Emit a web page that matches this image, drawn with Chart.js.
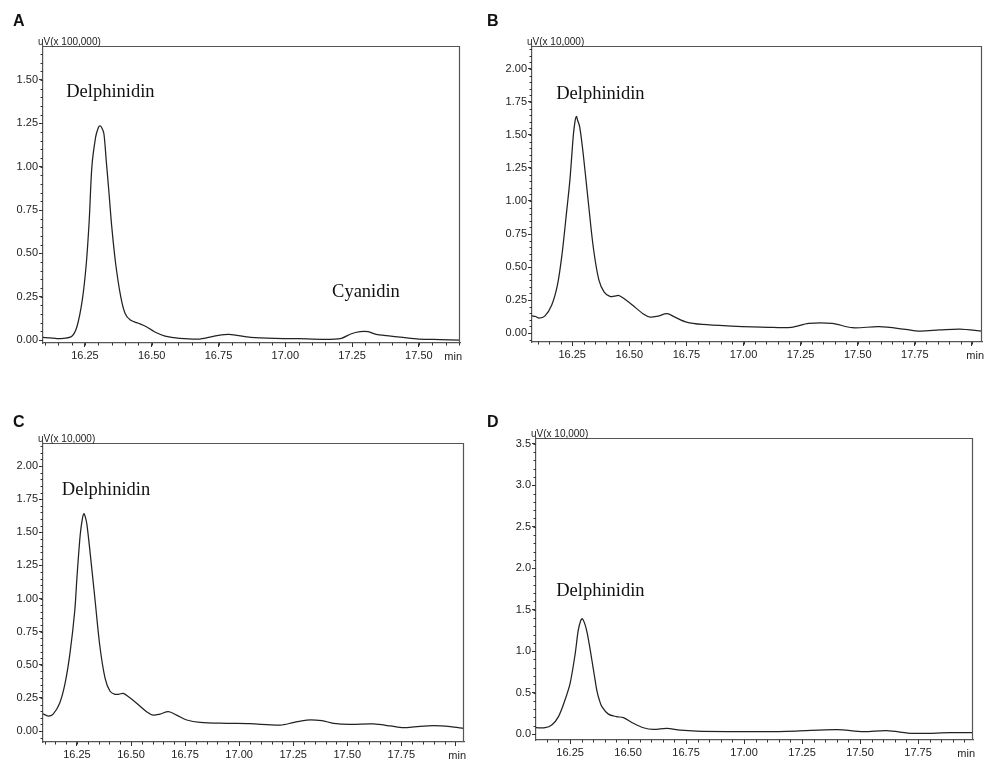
<!DOCTYPE html>
<html>
<head>
<meta charset="utf-8">
<script src="https://cdn.jsdelivr.net/npm/chart.js@4.4.1/dist/chart.umd.min.js"></script>
<style>
  body { margin: 0; background: #fff; }
  #page { position: relative; width: 984px; height: 760px; overflow: hidden; background: #fff; }
  canvas { position: absolute; }
  .tag { position: absolute; font: bold 16px "Liberation Sans", Arial, sans-serif; line-height: 16px; color: #111; }
</style>
</head>
<body>
<div id="page">
  <canvas id="chartA" width="480" height="380" style="left:0;top:0"></canvas>
  <canvas id="chartB" width="504" height="380" style="left:480px;top:0"></canvas>
  <canvas id="chartC" width="480" height="380" style="left:0;top:380px"></canvas>
  <canvas id="chartD" width="504" height="380" style="left:480px;top:380px"></canvas>
  <div class="tag" style="left:13px;top:13px">A</div>
  <div class="tag" style="left:487px;top:13px">B</div>
  <div class="tag" style="left:13px;top:414px">C</div>
  <div class="tag" style="left:487px;top:414px">D</div>
</div>

<script>
// ── chromatogram data (retention time in min, signal in axis units) ──

const timeA = [16.093, 16.12, 16.145, 16.17, 16.20, 16.22, 16.24, 16.255, 16.266, 16.276, 16.29, 16.30, 16.306,
  16.313, 16.321, 16.33, 16.34, 16.35, 16.365, 16.384, 16.40, 16.42, 16.45, 16.48, 16.51, 16.55, 16.605, 16.68,
  16.75, 16.79, 16.85, 16.87, 16.96, 17.05, 17.14, 17.21, 17.245, 17.28, 17.31, 17.34, 17.38, 17.44, 17.50, 17.58, 17.654];
const signalA = [0.015, 0.013, 0.008, 0.01, 0.02, 0.077, 0.23, 0.44, 0.69, 1.00, 1.17, 1.225, 1.235,
  1.225, 1.19, 1.03, 0.85, 0.66, 0.44, 0.25, 0.155, 0.115, 0.097, 0.077, 0.048, 0.023, 0.01, 0.006,
  0.027, 0.033, 0.02, 0.015, 0.01, 0.008, 0.004, 0.01, 0.035, 0.048, 0.048, 0.033, 0.025, 0.015, 0.006, 0.003, 0.0];

const timeB = [16.074, 16.09, 16.105, 16.13, 16.16, 16.185, 16.205, 16.225, 16.24, 16.255, 16.262, 16.268, 16.274,
  16.283, 16.298, 16.32, 16.343, 16.367, 16.39, 16.415, 16.435, 16.455, 16.478, 16.515, 16.56, 16.592, 16.625,
  16.665, 16.70, 16.75, 16.82, 16.947, 17.109, 17.21, 17.285, 17.388, 17.476, 17.594, 17.71, 17.77, 17.858, 17.947, 18.044];
const signalB = [0.13, 0.125, 0.113, 0.128, 0.21, 0.36, 0.59, 0.91, 1.16, 1.5, 1.6, 1.64, 1.61,
  1.56, 1.36, 1.00, 0.64, 0.40, 0.31, 0.277, 0.28, 0.284, 0.26, 0.21, 0.146, 0.12, 0.128,
  0.146, 0.12, 0.083, 0.065, 0.053, 0.043, 0.043, 0.073, 0.073, 0.04, 0.048, 0.028, 0.015, 0.023, 0.03, 0.015];

const timeC = [16.093, 16.117, 16.14, 16.17, 16.195, 16.218, 16.24, 16.25, 16.265, 16.276, 16.282, 16.288, 16.296,
  16.31, 16.333, 16.356, 16.38, 16.403, 16.426, 16.445, 16.464, 16.487, 16.526, 16.572, 16.603, 16.634, 16.673,
  16.711, 16.758, 16.82, 16.943, 17.05, 17.19, 17.25, 17.313, 17.383, 17.437, 17.514, 17.622, 17.70, 17.76, 17.82,
  17.90, 17.977, 18.04];
const signalC = [0.13, 0.113, 0.128, 0.21, 0.36, 0.59, 0.91, 1.16, 1.48, 1.61, 1.64, 1.62, 1.56,
  1.36, 1.00, 0.64, 0.40, 0.30, 0.277, 0.278, 0.284, 0.26, 0.21, 0.146, 0.12, 0.128, 0.146,
  0.12, 0.083, 0.065, 0.058, 0.055, 0.045, 0.063, 0.083, 0.078, 0.058, 0.05, 0.053, 0.038, 0.025, 0.033,
  0.04, 0.033, 0.02];

const timeD = [16.103, 16.142, 16.171, 16.20, 16.228, 16.25, 16.272, 16.285, 16.296, 16.303, 16.312, 16.322, 16.334,
  16.344, 16.355, 16.365, 16.376, 16.387, 16.415, 16.45, 16.48, 16.523, 16.566, 16.61, 16.667, 16.724, 16.796,
  16.94, 17.10, 17.227, 17.40, 17.514, 17.615, 17.73, 17.888, 17.987];
const signalD = [0.076, 0.076, 0.11, 0.21, 0.41, 0.61, 0.97, 1.25, 1.37, 1.39, 1.34, 1.24, 1.06,
  0.89, 0.70, 0.53, 0.41, 0.33, 0.24, 0.21, 0.197, 0.13, 0.076, 0.056, 0.068, 0.048, 0.036,
  0.03, 0.028, 0.036, 0.052, 0.028, 0.04, 0.008, 0.016, 0.016];

// axis ranges
const xRangeA = [16.093, 17.654], yRangeA = [-0.017, 1.696];
const xRangeB = [16.074, 18.044], yRangeB = [-0.068, 2.174];
const xRangeC = [16.093, 18.04],  yRangeC = [-0.083, 2.174];
const xRangeD = [16.103, 17.987], yRangeD = [-0.072, 3.57];

const unitLabels = ['uV(x 100,000)', 'uV(x 10,000)', 'uV(x 10,000)', 'uV(x 10,000)'];
const peakNames = ['Delphinidin', 'Cyanidin'];

const sansFont = '"Liberation Sans", Arial, sans-serif';

// ── frame, minor ticks, unit label, "min" and peak names ──
const chromDecor = {
    id: 'chromDecor',
    afterDraw(chart, args, opts) {
        const { ctx, chartArea: a, scales: { x, y } } = chart;
        ctx.save();

        // top and right sides of the box
        ctx.strokeStyle = '#555';
        ctx.lineWidth = 1.2;
        ctx.beginPath();
        ctx.moveTo(a.left, a.top + 0.5);
        ctx.lineTo(a.right - 0.5, a.top + 0.5);
        ctx.lineTo(a.right - 0.5, a.bottom);
        ctx.stroke();

        // minor ticks
        ctx.strokeStyle = '#333';
        ctx.lineWidth = 1;
        ctx.beginPath();
        for (let k = Math.ceil(x.min / opts.xMinor - 1e-9); k * opts.xMinor <= x.max + 1e-9; k++) {
            const px = Math.round(x.getPixelForValue(k * opts.xMinor)) + 0.5;
            ctx.moveTo(px, a.bottom);
            ctx.lineTo(px, a.bottom + 2.5);
        }
        for (let k = Math.ceil(y.min / opts.yMinor - 1e-9); k * opts.yMinor <= y.max + 1e-9; k++) {
            const py = Math.round(y.getPixelForValue(k * opts.yMinor)) + 0.5;
            ctx.moveTo(a.left, py);
            ctx.lineTo(a.left - 2.5, py);
        }
        ctx.stroke();

        // unit label above the axis
        ctx.fillStyle = '#222';
        ctx.font = '10px ' + sansFont;
        ctx.textAlign = 'left';
        ctx.textBaseline = 'alphabetic';
        ctx.fillText(opts.unit, a.left - 5, a.top - 1);

        // "min" at the end of the time axis
        ctx.font = '11px ' + sansFont;
        ctx.textAlign = 'right';
        ctx.textBaseline = 'top';
        ctx.fillText('min', a.right + 2, a.bottom + 8);

        // peak names
        ctx.font = '18.5px "Liberation Serif", "Times New Roman", serif';
        ctx.textAlign = 'left';
        ctx.textBaseline = 'alphabetic';
        ctx.fillStyle = '#111';
        opts.peaks.forEach(p => {
            ctx.fillText(p.text, x.getPixelForValue(p.x), y.getPixelForValue(p.y));
        });
        ctx.restore();
    }
};

function makeChart(id, cfg) {
    return new Chart(document.getElementById(id), {
        type: 'line',
        data: {
            datasets: [{
                data: cfg.time.map((t, i) => ({ x: t, y: cfg.signal[i] })),
                borderColor: '#222',
                borderWidth: 1.25,
                pointRadius: 0,
                fill: false,
                tension: 0.3
            }]
        },
        options: {
            responsive: false,
            animation: false,
            events: [],
            layout: { padding: cfg.pad },
            plugins: {
                legend: { display: false },
                tooltip: { enabled: false },
                chromDecor: { xMinor: 0.05, yMinor: cfg.yMinor, unit: cfg.unit, peaks: cfg.peaks }
            },
            scales: {
                x: {
                    type: 'linear',
                    min: cfg.xRange[0],
                    max: cfg.xRange[1],
                    afterFit(s) { s.height = 18; },
                    border: { display: true, color: '#555', width: 1.2 },
                    grid: { drawOnChartArea: false, drawTicks: true, tickLength: 4, tickColor: '#333' },
                    ticks: {
                        stepSize: 0.25,
                        includeBounds: false,
                        autoSkip: false,
                        maxRotation: 0,
                        padding: 2,
                        color: '#222',
                        font: { family: sansFont, size: 11 },
                        callback: v => (Math.abs(v - 18) < 1e-6 ? '' : Number(v).toFixed(2))
                    }
                },
                y: {
                    min: cfg.yRange[0],
                    max: cfg.yRange[1],
                    afterFit(s) { s.width = cfg.yWidth; },
                    border: { display: true, color: '#555', width: 1.2 },
                    grid: { drawOnChartArea: false, drawTicks: true, tickLength: 4, tickColor: '#333' },
                    ticks: {
                        stepSize: cfg.yStep,
                        includeBounds: false,
                        padding: 1,
                        color: '#222',
                        font: { family: sansFont, size: 11 },
                        callback: v => Number(v).toFixed(cfg.yDigits)
                    }
                }
            }
        },
        plugins: [chromDecor]
    });
}

makeChart('chartA', {
    time: timeA, signal: signalA, xRange: xRangeA, yRange: yRangeA,
    yStep: 0.25, yMinor: 0.05, yDigits: 2, yWidth: 43, unit: unitLabels[0],
    pad: { left: 0, top: 46, right: 20, bottom: 19 },
    peaks: [{ text: peakNames[0], x: 16.18, y: 1.40 }, { text: peakNames[1], x: 17.175, y: 0.248 }]
});

makeChart('chartB', {
    time: timeB, signal: signalB, xRange: xRangeB, yRange: yRangeB,
    yStep: 0.25, yMinor: 0.05, yDigits: 2, yWidth: 52, unit: unitLabels[1],
    pad: { left: 0, top: 46, right: 2, bottom: 20 },
    peaks: [{ text: peakNames[0], x: 16.18, y: 1.77 }]
});

makeChart('chartC', {
    time: timeC, signal: signalC, xRange: xRangeC, yRange: yRangeC,
    yStep: 0.25, yMinor: 0.05, yDigits: 2, yWidth: 43, unit: unitLabels[2],
    pad: { left: 0, top: 63, right: 16, bottom: 0 },
    peaks: [{ text: peakNames[0], x: 16.18, y: 1.78 }]
});

makeChart('chartD', {
    time: timeD, signal: signalD, xRange: xRangeD, yRange: yRangeD,
    yStep: 0.5, yMinor: 0.1, yDigits: 1, yWidth: 56, unit: unitLabels[3],
    pad: { left: 0, top: 58, right: 11, bottom: 2 },
    peaks: [{ text: peakNames[0], x: 16.19, y: 1.66 }]
});
</script>
</body>
</html>
